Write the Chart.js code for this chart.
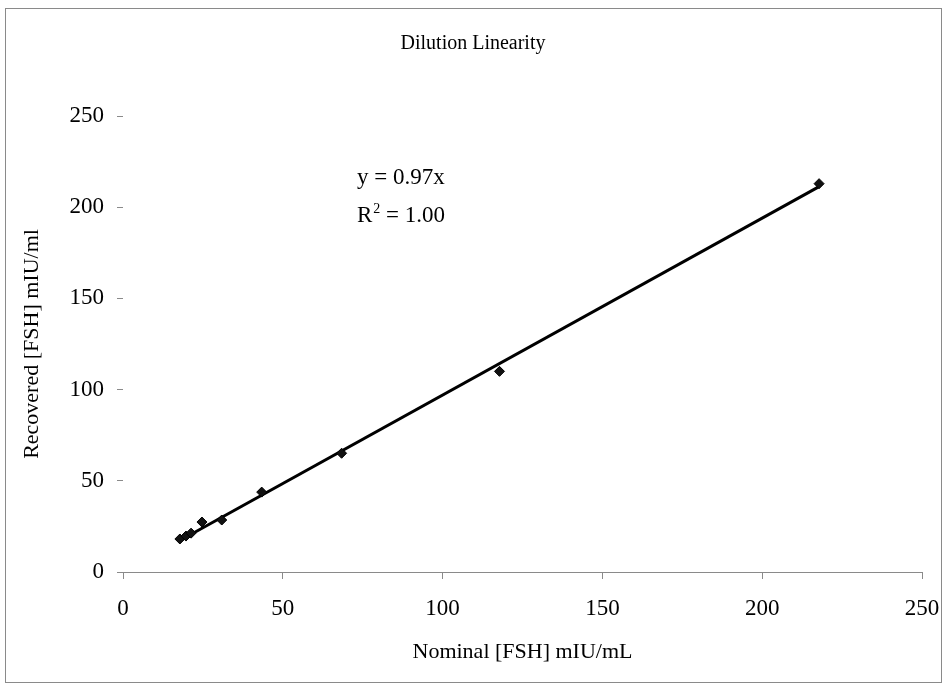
<!DOCTYPE html>
<html>
<head>
<meta charset="utf-8">
<script src="https://cdn.jsdelivr.net/npm/chart.js@4/dist/chart.umd.min.js"></script>
<style>
  html, body { margin: 0; padding: 0; background: #fff; }
  #wrap { width: 946px; height: 685px; }
</style>
</head>
<body>
<div id="wrap"><canvas id="c" width="946" height="685"></canvas></div>
<script>
// Data
const nominal   = [17.8, 19.7, 21.3, 24.7, 30.9, 43.4, 68.4, 117.8, 217.8];
const recovered = [18.1, 19.7, 21.3, 27.4, 28.5, 43.8, 65.1, 110.0, 212.9];
const trendX = [17.8, 217.8];
const trendY = [17.3, 211.3];
const xTicks = [0, 50, 100, 150, 200, 250];
const yTicks = [0, 50, 100, 150, 200, 250];
const titleText = 'Dilution Linearity';
const xTitle = 'Nominal [FSH] mIU/mL';
const yTitle = 'Recovered [FSH] mIU/ml';
const eqLine1 = 'y = 0.97x';
const eqLine2 = ['R', '2', ' = 1.00'];

const FONT = '"Liberation Serif", "Times New Roman", serif';

const framePlugin = {
  id: 'frame',
  beforeDraw(chart) {
    const ctx = chart.ctx;
    ctx.save();
    ctx.fillStyle = '#fff';
    ctx.fillRect(0, 0, chart.width, chart.height);
    ctx.strokeStyle = '#8a8a8a';
    ctx.lineWidth = 1;
    ctx.strokeRect(5.5, 8.5, 936, 674);
    ctx.restore();
  },
  afterDatasetsDraw(chart) {
    const ctx = chart.ctx;
    const xs = chart.scales.x, ys = chart.scales.y;
    const x0 = xs.getPixelForValue(73.2);
    ctx.save();
    ctx.fillStyle = '#000';
    ctx.textBaseline = 'alphabetic';
    ctx.textAlign = 'left';
    ctx.font = '23px ' + FONT;
    const b1 = ys.getPixelForValue(212.5);
    ctx.fillText(eqLine1, x0, b1);
    const b2 = ys.getPixelForValue(192);
    ctx.fillText(eqLine2[0], x0, b2);
    let w = ctx.measureText(eqLine2[0]).width;
    ctx.font = '14px ' + FONT;
    ctx.fillText(eqLine2[1], x0 + w + 1, b2 - 9);
    const w2 = ctx.measureText(eqLine2[1]).width;
    ctx.font = '23px ' + FONT;
    ctx.fillText(eqLine2[2], x0 + w + w2 + 1, b2);
    ctx.restore();
  }
};

const points = nominal.map((v, i) => ({ x: v, y: recovered[i] }));
const trend = trendX.map((v, i) => ({ x: v, y: trendY[i] }));

new Chart(document.getElementById('c'), {
  type: 'scatter',
  data: {
    datasets: [
      {
        label: 'Trend',
        data: trend,
        type: 'line',
        showLine: true,
        borderColor: '#000',
        borderWidth: 3,
        pointRadius: 0,
        fill: false,
        order: 2
      },
      {
        label: 'Recovered',
        data: points,
        pointStyle: 'rectRot',
        pointRadius: 5,
        backgroundColor: '#111',
        borderColor: '#000',
        borderWidth: 1,
        order: 1
      }
    ]
  },
  options: {
    responsive: false,
    animation: false,
    devicePixelRatio: 1,
    layout: { padding: { left: 0, right: 0, top: 0, bottom: 0 } },
    plugins: {
      legend: { display: false },
      tooltip: { enabled: false },
      title: {
        display: true,
        text: titleText,
        color: '#000',
        font: { family: FONT, size: 20, weight: 'normal' },
        padding: { top: 32, bottom: 60 }
      }
    },
    scales: {
      x: {
        type: 'linear',
        min: 0, max: 250,
        afterBuildTicks(s) { s.ticks = xTicks.map(v => ({ value: v })); },
        afterFit(s) { s.height = 113; s.paddingRight = 24; s.paddingLeft = 0; },
        border: { display: true, color: '#8a8a8a', width: 1 },
        grid: { display: true, drawOnChartArea: false, drawTicks: true, tickLength: 7, color: '#8a8a8a' },
        ticks: { color: '#000', padding: 16, font: { family: FONT, size: 23 }, maxRotation: 0 },
        title: {
          display: true, text: xTitle, color: '#000',
          font: { family: FONT, size: 22 }, padding: { top: 0, bottom: 20 }
        }
      },
      y: {
        type: 'linear',
        min: 0, max: 250,
        afterBuildTicks(s) { s.ticks = yTicks.map(v => ({ value: v })); },
        afterFit(s) { s.width = 123; },
        border: { display: false },
        grid: { display: true, drawOnChartArea: false, drawTicks: true, tickLength: 6, color: '#8a8a8a' },
        ticks: { color: '#000', padding: 13, font: { family: FONT, size: 23 } },
        title: {
          display: true, text: yTitle, color: '#000',
          font: { family: FONT, size: 22 }, padding: { top: 19, bottom: 0 }
        }
      }
    }
  },
  plugins: [framePlugin]
});
</script>
</body>
</html>
